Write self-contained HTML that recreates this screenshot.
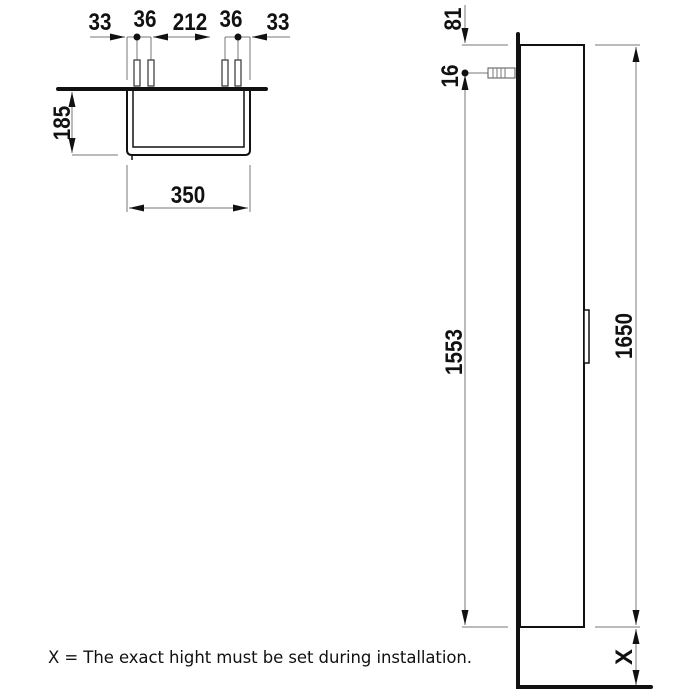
<!DOCTYPE html>
<html><head><meta charset="utf-8"><style>body{margin:0;background:#fff}svg{display:block}</style></head>
<body>
<svg width="700" height="700" viewBox="0 0 700 700" xmlns="http://www.w3.org/2000/svg">
<defs>
<marker id="a" viewBox="0 0 10 6" refX="10" refY="3" markerWidth="15" markerHeight="7" markerUnits="userSpaceOnUse" orient="auto-start-reverse" preserveAspectRatio="none"><path d="M0,0L10,3L0,6z" fill="#111"/></marker>
</defs>
<g font-family="Liberation Sans, sans-serif" font-weight="bold" font-size="24" fill="#111">
<g stroke="#777" stroke-width="1">
<line x1="90" y1="37" x2="125" y2="37" marker-end="url(#a)"/>
<line x1="127" y1="37" x2="127" y2="80"/>
<line x1="137" y1="37" x2="137" y2="85"/>
<line x1="151" y1="37" x2="151" y2="85"/>
<line x1="153" y1="37" x2="210" y2="37" marker-start="url(#a)" marker-end="url(#a)"/>
<line x1="238" y1="37" x2="238" y2="85"/>
<line x1="225" y1="37" x2="225" y2="85"/>
<line x1="250" y1="37" x2="250" y2="80"/>
<line x1="127" y1="37" x2="151" y2="37"/>
<line x1="225" y1="37" x2="250" y2="37"/>
<line x1="252" y1="37" x2="290" y2="37" marker-start="url(#a)"/>
<line x1="72" y1="155" x2="118" y2="155"/>
<line x1="72" y1="92" x2="72" y2="153" marker-start="url(#a)" marker-end="url(#a)"/>
<line x1="127" y1="165" x2="127" y2="212"/>
<line x1="250" y1="165" x2="250" y2="212"/>
<line x1="129" y1="208" x2="248" y2="208" marker-start="url(#a)" marker-end="url(#a)"/>
</g>
<circle cx="137" cy="37" r="3.5"/><circle cx="238" cy="37" r="3.5"/>
<g fill="#fff" stroke="#333" stroke-width="1.2">
<rect x="134" y="60" width="6" height="26"/><rect x="148" y="60" width="6" height="26"/>
<rect x="222" y="60" width="6" height="26"/><rect x="235" y="60" width="6" height="26"/>
</g>
<line x1="58" y1="89" x2="266" y2="89" stroke="#111" stroke-width="4" stroke-linecap="round"/>
<path d="M127,91V150Q127,155 132,155H245Q250,155 250,150V91" fill="none" stroke="#111" stroke-width="2"/>
<path d="M133,91V147H244V91" fill="none" stroke="#111" stroke-width="1.5"/>
<path d="M132,155V160" stroke="#111" stroke-width="1.5"/>
<text transform="translate(100,30) scale(0.86,1)" text-anchor="middle">33</text>
<text transform="translate(145,27) scale(0.86,1)" text-anchor="middle">36</text>
<text transform="translate(190,30) scale(0.86,1)" text-anchor="middle">212</text>
<text transform="translate(231,27) scale(0.86,1)" text-anchor="middle">36</text>
<text transform="translate(278,30) scale(0.86,1)" text-anchor="middle">33</text>
<text transform="translate(188,203) scale(0.86,1)" text-anchor="middle">350</text>
<text transform="translate(70,123) rotate(-90) scale(0.86,1)" text-anchor="middle">185</text>
<g stroke="#777" stroke-width="1">
<line x1="465" y1="5" x2="465" y2="43" marker-end="url(#a)"/>
<line x1="462" y1="45" x2="508" y2="45"/>
<line x1="465" y1="75" x2="465" y2="625" marker-start="url(#a)" marker-end="url(#a)"/>
<line x1="462" y1="627" x2="508" y2="627"/>
<line x1="595" y1="45" x2="640" y2="45"/>
<line x1="595" y1="627" x2="640" y2="627"/>
<line x1="636" y1="47" x2="636" y2="625" marker-start="url(#a)" marker-end="url(#a)"/>
<line x1="636" y1="629" x2="636" y2="685" marker-start="url(#a)" marker-end="url(#a)"/>
<line x1="465" y1="73" x2="488" y2="73"/>
</g>
<circle cx="465" cy="73" r="3.5"/>
<rect x="488" y="68" width="27" height="10" fill="#fff" stroke="#555" stroke-width="1"/>
<path d="M493,68V78M497,68V78M501,68V78M505,68V78" stroke="#777"/>
<path d="M518,34V687H651" fill="none" stroke="#111" stroke-width="4" stroke-linecap="round"/>
<rect x="520" y="45" width="64" height="582" fill="none" stroke="#111" stroke-width="2"/>
<rect x="584" y="310" width="5" height="53" fill="#fff" stroke="#111" stroke-width="1.5"/>
<text transform="translate(461,19) rotate(-90) scale(0.86,1)" text-anchor="middle">81</text>
<text transform="translate(458,76) rotate(-90) scale(0.86,1)" text-anchor="middle">16</text>
<text transform="translate(462,352) rotate(-90) scale(0.86,1)" text-anchor="middle">1553</text>
<text transform="translate(632,336) rotate(-90) scale(0.86,1)" text-anchor="middle">1650</text>
<text transform="translate(632,657) rotate(-90)" text-anchor="middle">X</text>
</g>
<text x="48" y="663" font-family="DejaVu Sans, Liberation Sans, sans-serif" font-size="16.5" fill="#111" textLength="424">X = The exact hight must be set during installation.</text>
</svg>
</body></html>
